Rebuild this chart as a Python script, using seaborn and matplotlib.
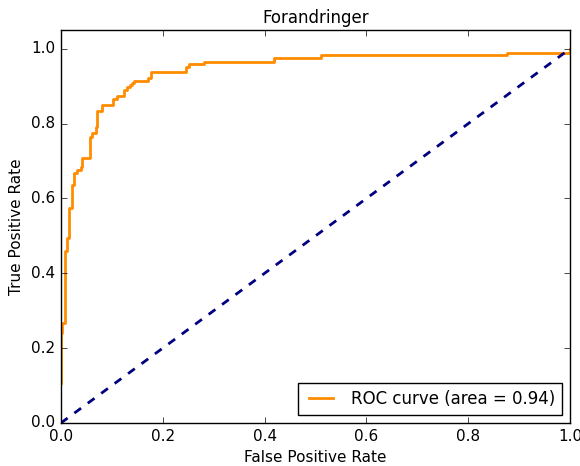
import matplotlib
matplotlib.use("Agg")
import matplotlib.pyplot as plt
import seaborn as sns
import pandas as pd

# ROC curve corner points
fpr = [0.0, 0.0, 0.002, 0.002, 0.008, 0.008, 0.012, 0.012, 0.016, 0.016, 0.022,
       0.022, 0.026, 0.026, 0.031, 0.031, 0.039, 0.039, 0.041, 0.041, 0.057,
       0.057, 0.061, 0.061, 0.069, 0.069, 0.071, 0.071, 0.081, 0.081, 0.102,
       0.102, 0.110, 0.110, 0.124, 0.124, 0.130, 0.130, 0.136, 0.136, 0.139,
       0.139, 0.143, 0.143, 0.171, 0.171, 0.177, 0.177, 0.246, 0.246, 0.251,
       0.251, 0.281, 0.281, 0.418, 0.418, 0.511, 0.511, 0.876, 0.876, 1.0, 1.0]
tpr = [0.107, 0.24, 0.24, 0.267, 0.267, 0.46, 0.46, 0.494, 0.494, 0.574, 0.574,
       0.636, 0.636, 0.667, 0.667, 0.676, 0.676, 0.684, 0.684, 0.708, 0.708,
       0.764, 0.764, 0.775, 0.775, 0.79, 0.79, 0.833, 0.833, 0.849, 0.849,
       0.865, 0.865, 0.873, 0.873, 0.889, 0.889, 0.897, 0.897, 0.903, 0.903,
       0.908, 0.908, 0.914, 0.914, 0.922, 0.922, 0.937, 0.937, 0.95, 0.95,
       0.958, 0.958, 0.965, 0.965, 0.975, 0.975, 0.983, 0.983, 0.988, 0.988, 1.0]
roc_auc = 0.94
chance = [0.0, 1.0]

plt.style.use('classic')
plt.rcParams['figure.facecolor'] = 'white'
plt.rcParams['savefig.facecolor'] = 'white'
plt.rcParams['font.family'] = ['DejaVu Sans']

df = pd.DataFrame({'fpr': fpr, 'tpr': tpr})

fig = plt.figure(figsize=(5.8, 4.66), dpi=100)
ax = fig.add_axes([0.105, 0.0923, 0.878, 0.8433])
sns.lineplot(data=df, x='fpr', y='tpr', sort=False, estimator=None, ax=ax,
             color='darkorange', lw=2, label='ROC curve (area = %0.2f)' % roc_auc)
sns.lineplot(x=chance, y=chance, sort=False, estimator=None, ax=ax,
             color='navy', lw=2, linestyle='--')
ax.set_xlim([0.0, 1.0])
ax.set_ylim([0.0, 1.05])
ax.set_xlabel('False Positive Rate', fontsize=11)
ax.set_ylabel('True Positive Rate', fontsize=11)
ax.set_title('Forandringer', fontsize=12)
ax.tick_params(labelsize=11)
ax.legend(loc="lower right", fontsize=12)

plt.savefig("out.png", dpi=100)
